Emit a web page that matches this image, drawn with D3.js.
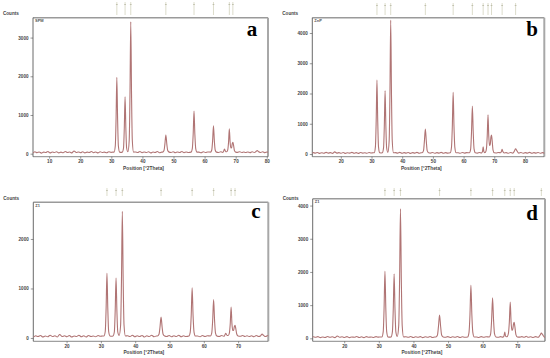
<!DOCTYPE html>
<html>
<head>
<meta charset="utf-8">
<script src="https://cdn.jsdelivr.net/npm/d3@7"></script>
<style>
	body { margin: 0; background: #fff; }
	svg { display: block; }
	.tick text { font-family: "Liberation Sans", Arial, sans-serif; }
</style>
</head>
<body>
<svg id="chart" width="550" height="358" viewBox="0 0 550 358"></svg>
<script>
// background noise (2Theta, counts)
const baseline = [
	[4,35],[4.7,20],[5.4,50],[6.1,25],[6.8,45],[7.5,15],[8.2,40],[8.9,30],[9.6,55],[10.3,20],
	[11,45],[11.7,30],[12.4,50],[13.1,20],[13.8,40],[14.5,25],[15.2,55],[15.9,30],[16.6,45],[17.3,20],
	[18,70],[18.7,30],[19.4,45],[20.1,25],[20.8,50],[21.5,20],[22.2,40],[22.9,30],[23.6,55],[24.3,25],
	[25,45],[25.7,20],[26.4,50],[27.1,30],[27.8,40],[28.5,25],[29.2,50],[29.9,35],[30.5,40],
	[37.8,45],[38.5,30],[39.2,55],[39.9,25],[40.6,45],[41.3,30],[42,50],[42.7,20],[43.4,45],[44.1,30],
	[44.8,55],[45.5,25],[46.2,40],[49.2,30],[49.9,50],[50.6,25],[51.3,45],[52,30],[52.7,55],[53.4,25],
	[54.1,45],[54.8,30],[58.2,40],[58.9,25],[59.6,50],[60.3,30],[61,45],[64.5,30],[65.2,50],[65.8,35],
	[70.6,35],[71.3,50],[72,30],[72.6,45],[73.2,30],[73.9,45],[74.6,25],[75.3,50],[76,30],[76.5,45],
	[77.3,40],[78,30],[78.7,50],[79.4,25],[80.1,45],[80.8,30],[81.5,55],[82.2,25],[82.9,45],[83.6,30],
	[84.3,50],[85,25],[85.7,45],[86.4,30],[87.1,40]
];

// peak groups per sample (2Theta, counts)
const peaksA = [
	[[30.87,40],[31.27,197],[31.52,887],[31.77,1970],[32.02,887],[32.27,197],[32.67,40],[33.1,35],[33.52,40],[33.92,147],[34.17,662],[34.42,1470],[34.67,662],[34.92,147],[35.33,50],[35.75,341],[36.0,1535],[36.25,3410],[36.5,1535],[36.75,341],[37.15,40]],
	[[46.49,40],[46.94,80],[47.22,240],[47.54,480],[47.86,240],[48.14,80],[48.59,40]],
	[[55.65,40],[56.05,130],[56.33,500],[56.6,1100],[56.87,500],[57.15,130],[57.55,40]],
	[[61.91,40],[62.31,95],[62.58,330],[62.86,720],[63.14,330],[63.41,95],[63.81,40]],
	[[66.0,40],[66.4,120],[66.8,50],[67.1,50],[67.45,100],[67.7,290],[67.96,645],[68.2,300],[68.45,150],[68.7,160],[68.9,260],[69.1,295],[69.3,230],[69.6,80],[70.0,40]],
	[[76.3,40],[76.7,70],[76.95,80],[77.3,60],[77.7,35]]
];
const peaksB = [
	[[30.87,40],[31.27,245],[31.52,1100],[31.77,2446],[32.02,1100],[32.27,245],[32.67,40],[33.1,35],[33.52,40],[33.92,210],[34.17,940],[34.42,2093],[34.67,940],[34.92,210],[35.33,55],[35.75,443],[36.0,1990],[36.25,4430],[36.5,1990],[36.75,443],[37.15,40]],
	[[46.49,40],[46.94,110],[47.22,410],[47.54,826],[47.86,410],[48.14,110],[48.59,40]],
	[[55.65,40],[56.05,220],[56.33,920],[56.6,2040],[56.87,920],[57.15,220],[57.55,40]],
	[[61.91,40],[62.31,170],[62.58,720],[62.86,1587],[63.14,720],[63.41,170],[63.81,40]],
	[[65.9,40],[66.15,80],[66.38,241],[66.6,80],[66.9,45],[67.15,60],[67.45,180],[67.7,590],[67.96,1300],[68.2,600],[68.45,280],[68.7,330],[68.9,560],[69.1,628],[69.3,450],[69.6,130],[70.0,40]],
	[[72.0,40],[72.35,90],[72.56,155],[72.8,80],[73.2,35]],
	[[76.2,40],[76.6,110],[76.95,175],[77.3,120],[77.8,40]]
];
const peaksC = [
	[[30.87,40],[31.27,131],[31.52,588],[31.77,1307],[32.02,588],[32.27,131],[32.67,40],[33.1,35],[33.52,40],[33.92,121],[34.17,545],[34.42,1212],[34.67,545],[34.92,121],[35.33,50],[35.75,256],[36.0,1150],[36.25,2559],[36.5,1150],[36.75,256],[37.15,40]],
	[[46.49,40],[46.94,75],[47.22,212],[47.54,424],[47.86,212],[48.14,75],[48.59,40]],
	[[55.65,40],[56.05,120],[56.33,457],[56.6,1016],[56.87,457],[57.15,120],[57.55,40]],
	[[61.91,40],[62.31,100],[62.58,350],[62.86,774],[63.14,350],[63.41,100],[63.81,40]],
	[[66.0,40],[66.38,95],[66.8,50],[67.1,50],[67.45,100],[67.7,280],[67.96,626],[68.2,290],[68.45,150],[68.7,160],[68.9,230],[69.1,256],[69.3,200],[69.6,80],[70.0,40]],
	[[76.5,40],[76.8,70],[77.0,80],[77.3,60],[77.7,35]]
];
const peaksD = [
	[[30.87,40],[31.27,202],[31.52,909],[31.77,2021],[32.02,909],[32.27,202],[32.67,40],[33.1,35],[33.52,40],[33.92,194],[34.17,873],[34.42,1940],[34.67,873],[34.92,194],[35.33,55],[35.75,390],[36.0,1757],[36.25,3904],[36.5,1757],[36.75,390],[37.15,40]],
	[[46.49,40],[46.94,100],[47.22,350],[47.54,700],[47.86,350],[48.14,100],[48.59,40]],
	[[55.65,40],[56.05,180],[56.33,720],[56.6,1600],[56.87,720],[57.15,180],[57.55,40]],
	[[61.91,40],[62.31,140],[62.58,550],[62.86,1219],[63.14,550],[63.41,140],[63.81,40]],
	[[65.9,40],[66.15,70],[66.38,190],[66.6,70],[66.9,45],[67.15,60],[67.45,160],[67.7,490],[67.96,1090],[68.2,500],[68.45,240],[68.7,280],[68.9,430],[69.1,480],[69.3,350],[69.6,110],[70.0,40]],
	[[72.2,40],[72.56,60],[72.9,40]],
	[[76.2,40],[76.6,100],[76.95,160],[77.3,110],[77.8,40]]
];

// reference pattern lines shown above each plot
const markersA = [31.77, 34.42, 36.25, 47.54, 56.60, 62.86, 67.96, 69.10];
const markersB = [31.77, 34.42, 36.25, 47.54, 56.60, 62.86, 66.38, 67.96, 69.10, 72.56, 76.95];
const markersC = [31.77, 34.42, 36.25, 47.54, 56.60, 62.86, 67.96, 69.10];
const markersD = [31.77, 34.42, 36.25, 47.54, 56.60, 62.86, 66.38, 67.96, 69.10, 76.95];

const yTickValues = [0, 1000, 2000, 3000, 4000];
const xTickValues = [10, 20, 30, 40, 50, 60, 70, 80];
const panelLetters = ["a", "b", "c", "d"];
const sampleTags = ["SPM", "ZnP", "Z1", "Z1"];

const panels = [
	{ peaks: peaksA, markers: markersA, xDomain: [4.8, 80.4], yDomain: [-78, 3514],
		box: { x0: 33, x1: 268, y0: 17.7, y1: 156.7 }, mk: [2, 15], counts: 15, letterPos: [252, 36] },
	{ peaks: peaksB, markers: markersB, xDomain: [10.7, 86.3], yDomain: [-89, 4506],
		box: { x0: 312.3, x1: 544.3, y0: 17.7, y1: 156.7 }, mk: [3, 15], counts: 15, letterPos: [532, 36] },
	{ peaks: peaksC, markers: markersC, xDomain: [10.3, 78.8], yDomain: [-67, 2741],
		box: { x0: 33.3, x1: 268.3, y0: 202.3, y1: 341.3 }, mk: [188, 196], counts: 200, letterPos: [256, 218] },
	{ peaks: peaksD, markers: markersD, xDomain: [10.9, 78], yDomain: [-90, 4204],
		box: { x0: 312.7, x1: 545, y0: 198.8, y1: 341.3 }, mk: [188, 196], counts: 200, letterPos: [532, 220] }
];

const svg = d3.select("#chart");
const font = "'Liberation Sans', Arial, sans-serif";

panels.forEach((p, i) => {
	const { x0, x1, y0, y1 } = p.box;
	const x = d3.scaleLinear().domain(p.xDomain).range([x0, x1]);
	const y = d3.scaleLinear().domain(p.yDomain).range([y1, y0]);
	const g = svg.append("g").attr("class", "panel");

	// merge noise with peak groups
	const ranges = p.peaks.map(grp => [grp[0][0], grp[grp.length - 1][0]]);
	const pts = baseline
		.filter(d => !ranges.some(r => d[0] >= r[0] && d[0] <= r[1]))
		.concat(...p.peaks)
		.sort((a, b) => a[0] - b[0]);

	const clipId = "clip" + i;
	g.append("clipPath").attr("id", clipId)
		.append("rect").attr("x", x0).attr("y", y0).attr("width", x1 - x0).attr("height", y1 - y0);

	// axes
	const yTicks = yTickValues.filter(v => v <= p.yDomain[1]);
	const yAxis = g.append("g")
		.attr("transform", `translate(${x0},0)`)
		.call(d3.axisLeft(y).tickValues(yTicks).tickSize(2.5).tickPadding(2).tickFormat(d3.format("d")));
	const xTicks = xTickValues.filter(v => v >= p.xDomain[0] && v <= p.xDomain[1]);
	const xAxis = g.append("g")
		.attr("transform", `translate(0,${y1})`)
		.call(d3.axisBottom(x).tickValues(xTicks).tickSize(2).tickPadding(1.5).tickFormat(d3.format("d")));
	[yAxis, xAxis].forEach(a => {
		a.select(".domain").remove();
		a.selectAll(".tick line").attr("stroke", "#555").attr("stroke-width", 0.6);
		a.selectAll(".tick text").attr("font-size", 4.6).attr("font-weight", "bold").attr("fill", "#444");
	});

	// frame
	g.append("line").attr("x1", x0).attr("x2", x1).attr("y1", y0).attr("y2", y0)
		.attr("stroke", "#9a9a9a").attr("stroke-width", 1.6);
	g.append("line").attr("x1", x1).attr("x2", x1).attr("y1", y0).attr("y2", y1)
		.attr("stroke", "#a8a8a8").attr("stroke-width", 2);
	g.append("line").attr("x1", x0).attr("x2", x0).attr("y1", y0).attr("y2", y1)
		.attr("stroke", "#444").attr("stroke-width", 0.8);
	g.append("line").attr("x1", x0).attr("x2", x1).attr("y1", y1).attr("y2", y1)
		.attr("stroke", "#555").attr("stroke-width", 0.7);

	// pattern
	const line = d3.line().x(d => x(d[0])).y(d => y(d[1])).curve(d3.curveMonotoneX);
	g.append("path")
		.datum(pts)
		.attr("clip-path", `url(#${clipId})`)
		.attr("d", line)
		.attr("fill", "none")
		.attr("stroke", "#b07474")
		.attr("stroke-width", 1.1);

	// reference markers
	const mg = g.append("g").selectAll("g").data(p.markers).enter().append("g")
		.attr("transform", d => `translate(${x(d)},0)`);
	mg.append("line").attr("y1", p.mk[0]).attr("y2", p.mk[1])
		.attr("stroke", "#cdcdb4").attr("stroke-width", 0.7);
	mg.append("line").attr("x1", -0.9).attr("x2", 0.9).attr("y1", p.mk[0] + 2.5).attr("y2", p.mk[0] + 2.5)
		.attr("stroke", "#a8a890").attr("stroke-width", 0.6);

	// labels
	g.append("text").attr("x", x0 - 30).attr("y", p.counts)
		.attr("font-family", font).attr("font-size", 4.6).attr("font-weight", "bold").attr("fill", "#444")
		.text("Counts");
	g.append("text").attr("x", x0 + 2).attr("y", y0 + 4.5)
		.attr("font-family", font).attr("font-size", 4).attr("font-weight", "bold").attr("fill", "#555")
		.text(sampleTags[i]);
	g.append("text").attr("x", (x0 + x1) / 2 - 7).attr("y", y1 + 13)
		.attr("text-anchor", "middle")
		.attr("font-family", font).attr("font-size", 4.8).attr("font-weight", "bold").attr("fill", "#444")
		.text("Position [°2Theta]");
	g.append("text").attr("x", p.letterPos[0]).attr("y", p.letterPos[1])
		.attr("text-anchor", "middle")
		.attr("font-family", "'Liberation Serif', 'Times New Roman', serif")
		.attr("font-size", 21).attr("font-weight", "bold").attr("fill", "#000")
		.text(panelLetters[i]);
});
</script>
</body>
</html>
